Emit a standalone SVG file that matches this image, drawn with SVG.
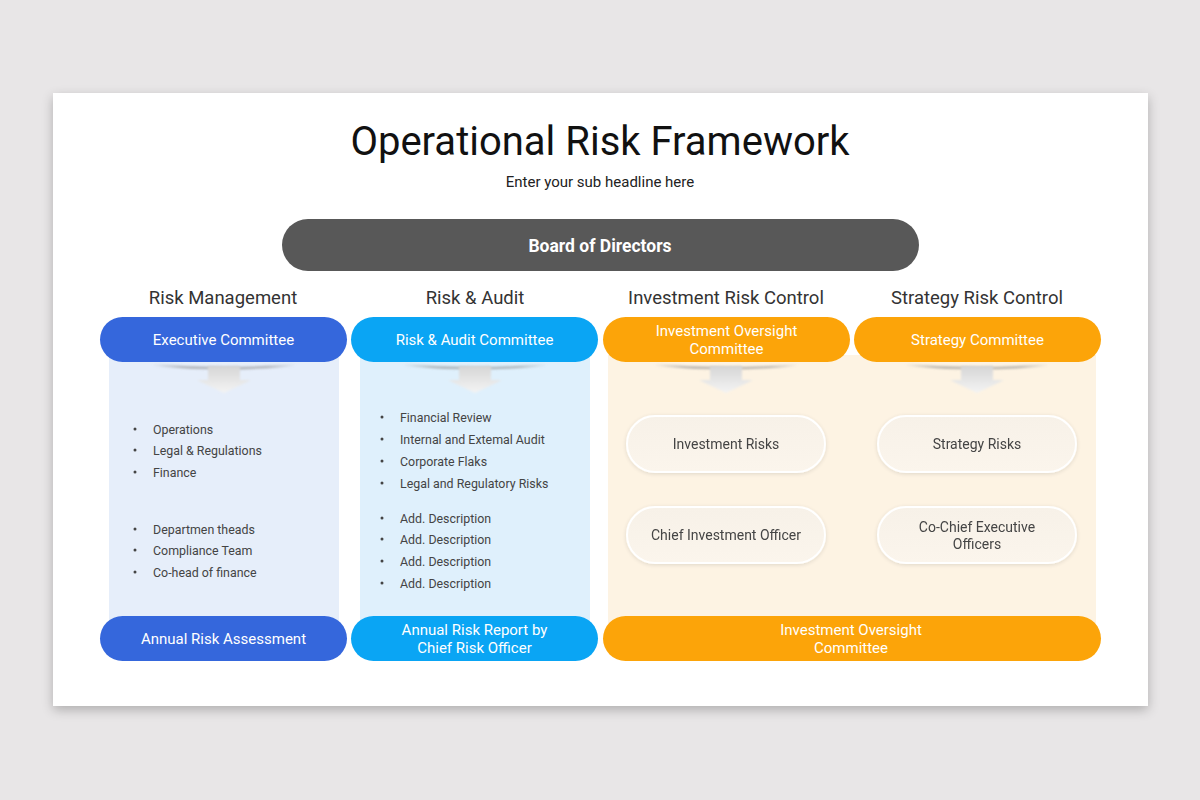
<svg xmlns="http://www.w3.org/2000/svg" width="1200" height="800" viewBox="0 0 1200 800">
<defs>
<style>
.t{font-family:Roboto,"Noto Sans","Liberation Sans",sans-serif}
.pill{font-family:Roboto,"Noto Sans","Liberation Sans",sans-serif;font-size:15px;fill:#fff;text-anchor:middle}
.head{font-family:Roboto,"Noto Sans","Liberation Sans",sans-serif;font-size:18.5px;fill:#333;text-anchor:middle}
.li{font-family:Roboto,"Noto Sans","Liberation Sans",sans-serif;font-size:12.4px;fill:#444}
.sub{font-family:Roboto,"Noto Sans","Liberation Sans",sans-serif;font-size:14px;fill:#444;text-anchor:middle}
.blue{fill:#3567dc}
.sky{fill:#0aa5f4}
.org{fill:#fca409}
.node{fill:url(#gNode);stroke:#fff;stroke-width:2}
</style>
<filter id="cardShadow" x="-5%" y="-5%" width="110%" height="115%">
<feGaussianBlur in="SourceAlpha" stdDeviation="6"/>
<feOffset dx="0" dy="4"/>
<feComponentTransfer><feFuncA type="linear" slope="0.25"/></feComponentTransfer>
<feMerge><feMergeNode/><feMergeNode in="SourceGraphic"/></feMerge>
</filter>
<filter id="nodeShadow" x="-10%" y="-20%" width="120%" height="150%">
<feGaussianBlur in="SourceAlpha" stdDeviation="2"/>
<feOffset dx="0" dy="1"/>
<feComponentTransfer><feFuncA type="linear" slope="0.12"/></feComponentTransfer>
<feMerge><feMergeNode/><feMergeNode in="SourceGraphic"/></feMerge>
</filter>
<filter id="soft" x="-20%" y="-50%" width="140%" height="200%">
<feGaussianBlur stdDeviation="1.2"/>
</filter>
<linearGradient id="gNode" x1="0" y1="0" x2="0" y2="1">
<stop offset="0" stop-color="#f7f1e8"/>
<stop offset="1" stop-color="#fbf5ec"/>
</linearGradient>
<linearGradient id="gArrow" x1="0" y1="0" x2="0" y2="1">
<stop offset="0" stop-color="#d6d6d6"/>
<stop offset="1" stop-color="#f4f4f4"/>
</linearGradient>
<linearGradient id="gShade" x1="0" y1="0" x2="1" y2="0">
<stop offset="0" stop-color="#888" stop-opacity="0"/>
<stop offset="0.2" stop-color="#888" stop-opacity="0.55"/>
<stop offset="0.8" stop-color="#888" stop-opacity="0.55"/>
<stop offset="1" stop-color="#888" stop-opacity="0"/>
</linearGradient>
<g id="arrow">
<path d="M-72,364 Q0,370 72,364 L72,366 Q0,373 -72,366 Z" fill="url(#gShade)" filter="url(#soft)"/>
<path d="M-16,366 H16 V380 H27 L0,393 L-27,380 H-16 Z" fill="url(#gArrow)" filter="url(#soft)"/>
</g>
</defs>

<rect x="0" y="0" width="1200" height="800" fill="#e8e6e7"/>
<rect x="53" y="93" width="1095" height="613" fill="#fff" filter="url(#cardShadow)"/>

<g id="title">
<text class="t" x="600" y="155" font-size="40" fill="#111" text-anchor="middle">Operational Risk Framework</text>
<text class="t" x="600" y="187" font-size="15" fill="#222" text-anchor="middle">Enter your sub headline here</text>
</g>

<g id="board">
<rect x="282" y="219" width="637" height="52" rx="26" fill="#585858"/>
<text class="t" x="600" y="251.5" font-size="17.5" font-weight="bold" fill="#fff" text-anchor="middle">Board of Directors</text>
</g>

<g id="panels">
<rect x="109" y="355" width="230" height="270" fill="#e6eefa"/>
<rect x="360" y="355" width="230" height="270" fill="#dff0fc"/>
<rect x="608" y="355" width="488" height="270" fill="#fdf3e3"/>
</g>

<g id="headings">
<text class="head" x="223" y="304">Risk Management</text>
<text class="head" x="475" y="304">Risk &amp; Audit</text>
<text class="head" x="726" y="304">Investment Risk Control</text>
<text class="head" x="977" y="304">Strategy Risk Control</text>
</g>

<g id="executive-committee">
<rect class="blue" x="100" y="317" width="247" height="45" rx="22.5"/>
<text class="pill" x="223.5" y="344.5">Executive Committee</text>
</g>
<g id="risk-audit-committee">
<rect class="sky" x="351" y="317" width="247" height="45" rx="22.5"/>
<text class="pill" x="474.5" y="344.5">Risk &amp; Audit Committee</text>
</g>
<g id="investment-oversight-committee">
<rect class="org" x="603" y="317" width="247" height="45" rx="22.5"/>
<text class="pill" x="726.5" y="335.5">Investment Oversight</text>
<text class="pill" x="726.5" y="353.5">Committee</text>
</g>
<g id="strategy-committee">
<rect class="org" x="854" y="317" width="247" height="45" rx="22.5"/>
<text class="pill" x="977.5" y="344.5">Strategy Committee</text>
</g>

<g id="connectors">
<use href="#arrow" x="224" y="0"/>
<use href="#arrow" x="475" y="0"/>
<use href="#arrow" x="726" y="0"/>
<use href="#arrow" x="977" y="0"/>
</g>

<g id="risk-management-list">
<g fill="#444"><circle cx="135" cy="429" r="1.5"/><circle cx="135" cy="450" r="1.5"/><circle cx="135" cy="472" r="1.5"/><circle cx="135" cy="529" r="1.5"/><circle cx="135" cy="550" r="1.5"/><circle cx="135" cy="572" r="1.5"/></g>
<text class="li" x="153" y="433.5">Operations</text>
<text class="li" x="153" y="454.5">Legal &amp; Regulations</text>
<text class="li" x="153" y="476.5">Finance</text>
<text class="li" x="153" y="533.5">Departmen theads</text>
<text class="li" x="153" y="554.5">Compliance Team</text>
<text class="li" x="153" y="576.5">Co-head of finance</text>
</g>

<g id="risk-audit-list">
<g fill="#444"><circle cx="382" cy="417" r="1.5"/><circle cx="382" cy="439" r="1.5"/><circle cx="382" cy="461" r="1.5"/><circle cx="382" cy="483" r="1.5"/><circle cx="382" cy="518" r="1.5"/><circle cx="382" cy="539" r="1.5"/><circle cx="382" cy="561" r="1.5"/><circle cx="382" cy="583" r="1.5"/></g>
<text class="li" x="400" y="421.5">Financial Review</text>
<text class="li" x="400" y="443.5">Internal and Extemal Audit</text>
<text class="li" x="400" y="465.5">Corporate Flaks</text>
<text class="li" x="400" y="487.5">Legal and Regulatory Risks</text>
<text class="li" x="400" y="522.5">Add. Description</text>
<text class="li" x="400" y="543.5">Add. Description</text>
<text class="li" x="400" y="565.5">Add. Description</text>
<text class="li" x="400" y="587.5">Add. Description</text>
</g>

<g id="investment-risks" filter="url(#nodeShadow)">
<rect class="node" x="627" y="416" width="198" height="56" rx="28"/>
<text class="sub" x="726" y="449">Investment Risks</text>
</g>
<g id="chief-investment-officer" filter="url(#nodeShadow)">
<rect class="node" x="627" y="507" width="198" height="56" rx="28"/>
<text class="sub" x="726" y="540">Chief Investment Officer</text>
</g>
<g id="strategy-risks" filter="url(#nodeShadow)">
<rect class="node" x="878" y="416" width="198" height="56" rx="28"/>
<text class="sub" x="977" y="449">Strategy Risks</text>
</g>
<g id="co-chief-executive-officers" filter="url(#nodeShadow)">
<rect class="node" x="878" y="507" width="198" height="56" rx="28"/>
<text class="sub" x="977" y="532">Co-Chief Executive</text>
<text class="sub" x="977" y="549">Officers</text>
</g>

<g id="annual-risk-assessment">
<rect class="blue" x="100" y="616" width="247" height="45" rx="22.5"/>
<text class="pill" x="223.5" y="644">Annual Risk Assessment</text>
</g>
<g id="annual-risk-report">
<rect class="sky" x="351" y="616" width="247" height="45" rx="22.5"/>
<text class="pill" x="474.5" y="635">Annual Risk Report by</text>
<text class="pill" x="474.5" y="653">Chief Risk Officer</text>
</g>
<g id="investment-oversight-committee-bottom">
<rect class="org" x="603" y="616" width="498" height="45" rx="22.5"/>
<text class="pill" x="851" y="635">Investment Oversight</text>
<text class="pill" x="851" y="653">Committee</text>
</g>
</svg>
